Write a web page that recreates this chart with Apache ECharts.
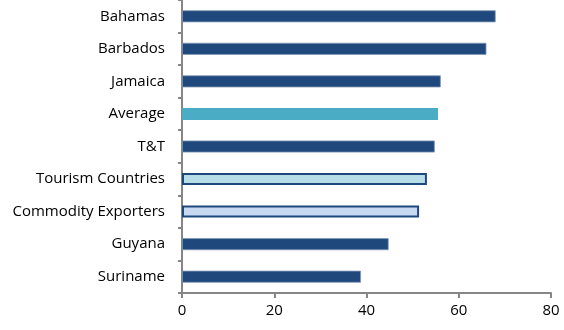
<!DOCTYPE html>
<html>
<head>
<meta charset="utf-8">
<script src="https://cdn.jsdelivr.net/npm/echarts@6/dist/echarts.min.js"></script>
<style>
  html, body { margin: 0; padding: 0; background: #fff; }
  #main { width: 564px; height: 330px; }
</style>
</head>
<body>
<div id="main"></div>
<script>
const categories = ["Bahamas", "Barbados", "Jamaica", "Average", "T&T", "Tourism Countries", "Commodity Exporters", "Guyana", "Suriname"];
const values = [68.0, 66.0, 56.1, 55.5, 54.8, 53.1, 51.4, 44.8, 38.8];
const xTicks = [0, 20, 40, 60, 80];

// per-bar look, keyed by category
const barStyles = {
  "Average": { color: "#4BACC6", borderWidth: 0 },
  "Tourism Countries": { color: "#B7DEE8", borderColor: "#1F497D", borderWidth: 2 },
  "Commodity Exporters": { color: "#C6D9F1", borderColor: "#1F497D", borderWidth: 2 }
};
const defaultStyle = { color: "#1F497D", borderColor: "#8397B4", borderWidth: 0.8 };

let chartDom = document.getElementById("main");
let myChart = echarts.init(chartDom);
let option = {
  animation: false,
  grid: { left: 182, right: 13, top: -1, bottom: 37 },
  xAxis: {
    type: "value",
    min: xTicks[0],
    max: xTicks[xTicks.length - 1],
    interval: 20,
    splitLine: { show: false },
    axisLine: { show: true, lineStyle: { color: "#868686", width: 2 } },
    axisTick: { show: true, length: 5, lineStyle: { color: "#868686", width: 2 } },
    axisLabel: { margin: 10, color: "#000", fontSize: 15, fontFamily: "Open Sans" }
  },
  yAxis: {
    type: "category",
    inverse: true,
    data: categories,
    axisLine: { show: true, lineStyle: { color: "#868686", width: 2 } },
    axisTick: { show: true, length: 4, lineStyle: { color: "#868686", width: 2 } },
    axisLabel: { margin: 17, color: "#000", fontSize: 15, fontFamily: "Open Sans" }
  },
  series: [
    {
      type: "bar",
      barWidth: 12,
      data: values.map((v, i) => ({
        value: v,
        itemStyle: barStyles[categories[i]] || defaultStyle
      }))
    }
  ]
};
myChart.setOption(option);
</script>
</body>
</html>
